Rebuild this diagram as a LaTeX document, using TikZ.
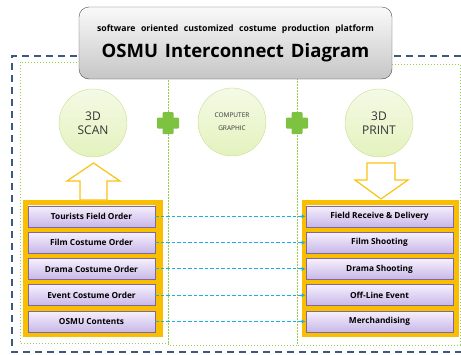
\documentclass[tikz,border=0pt]{standalone}
\usepackage{fontspec}
\setmainfont{Open Sans}
\usepackage{tikz}
\usetikzlibrary{arrows.meta,positioning,shapes,calc}

\definecolor{frameblue}{RGB}{60,90,125}
\definecolor{dotgreen}{RGB}{150,205,80}
\definecolor{plusgreen}{RGB}{125,195,65}
\definecolor{circfill}{RGB}{228,242,190}
\definecolor{circedge}{RGB}{200,222,150}
\definecolor{panelorange}{RGB}{250,190,0}
\definecolor{itemtop}{RGB}{246,240,253}
\definecolor{itembot}{RGB}{200,183,232}
\definecolor{itemedge}{RGB}{125,105,155}
\definecolor{linkcyan}{RGB}{30,175,225}
\definecolor{arrowyellow}{RGB}{250,195,20}

\tikzset{
  titlebox/.style={draw=black!70, rounded corners=10pt, top color=gray!4, bottom color=gray!45, align=center, inner sep=0pt},
  stage/.style={circle, draw=circedge, top color=circfill!40!white, bottom color=circfill, minimum size=68pt, inner sep=0pt, align=center, text=black!80},
  panel/.style={fill=panelorange, inner sep=0pt},
  item/.style={draw=itemedge, line width=0.6pt, top color=itemtop, bottom color=itembot, minimum height=21pt, inner sep=0pt, font=\fontsize{8.3}{10}\selectfont\bfseries},
  link/.style={linkcyan, line width=1pt, dash pattern=on 3.5pt off 2pt, -{Latex[length=4pt,width=4pt]}},
  blockarrow/.style={draw=arrowyellow, fill=white, line width=1.2pt, line join=miter}
}

\begin{document}
\begin{tikzpicture}[x=1pt, y=-1pt]
    \useasboundingbox (0,0) rectangle (461,354);

    % Outer frame
    \draw[frameblue, line width=1.2pt, dash pattern=on 7pt off 5pt] (461,56) -- (12,56) -- (12,352) -- (461,352);

    % Three dotted sections
    \draw[dotgreen, dotted, line width=1pt] (20,62) rectangle (168,343);
    \draw[dotgreen, dotted, line width=1pt] (168,62) rectangle (297,345);
    \draw[dotgreen, dotted, line width=1pt] (297,64) rectangle (460,345);

    % Orange panels
    \node[panel, minimum width=140pt, minimum height=137pt] (lpanel) at (93,268.5) {};
    \node[panel, minimum width=157pt, minimum height=137pt] (rpanel) at (380.5,268.5) {};

    % Orders (left)
    \node[item, minimum width=127pt] (l1) at (91.5,216.3) {Tourists Field Order};
    \node[item, minimum width=127pt] (l2) at (91.5,242.6) {Film Costume Order};
    \node[item, minimum width=127pt] (l3) at (91.5,268.9) {Drama Costume Order};
    \node[item, minimum width=127pt] (l4) at (91.5,295.2) {Event Costume Order};
    \node[item, minimum width=127pt] (l5) at (91.5,321.5) {OSMU Contents};

    % Uses (right)
    \node[item, minimum width=147pt] (r1) at (379.5,216.3) {Field Receive \& Delivery};
    \node[item, minimum width=147pt] (r2) at (379.5,242.6) {Film Shooting};
    \node[item, minimum width=147pt] (r3) at (379.5,268.9) {Drama Shooting};
    \node[item, minimum width=147pt] (r4) at (379.5,295.2) {Off-Line Event};
    \node[item, minimum width=147pt] (r5) at (379.5,321.5) {Merchandising};

    % Links
    \draw[link] (l1.east) -- (r1.west);
    \draw[link] (l2.east) -- (r2.west);
    \draw[link] (l3.east) -- (r3.west);
    \draw[link] (l4.east) -- (r4.west);
    \draw[link] (l5.east) -- (r5.west);

    % Block arrows
    \draw[blockarrow] (93.5,163) -- (120,181) -- (107,181) -- (107,200) -- (80,200) -- (80,181) -- (67,181) -- cycle;
    \draw[blockarrow] (367,163) -- (395,163) -- (395,180) -- (408,180) -- (381,199) -- (355,180) -- (367,180) -- cycle;

    % Stages
    \node[stage, font=\fontsize{12}{14}\selectfont] (scan) at (93,123) {3D\\SCAN};
    \node[stage, font=\fontsize{6.5}{13}\selectfont] (cg) at (232,122) {COMPUTER\\GRAPHIC};
    \node[stage, font=\fontsize{12}{14}\selectfont] (print) at (379,123) {3D\\PRINT};

    % Plus signs
    \fill[plusgreen, rounded corners=1pt] (162.5,112) rectangle (173.5,134);
    \fill[plusgreen, rounded corners=1pt] (157,117.5) rectangle (179,128.5);
    \fill[plusgreen, rounded corners=1pt] (291.5,112) rectangle (302.5,134);
    \fill[plusgreen, rounded corners=1pt] (286,117.5) rectangle (308,128.5);

    % Title
    \node[titlebox, minimum width=313pt, minimum height=72pt] (title) at (235.5,43)
      {{\fontsize{8.7}{10}\selectfont\bfseries\spaceskip=5.5pt software oriented customized costume production platform}\\[9pt]
       {\fontsize{18.5}{20}\selectfont\bfseries\spaceskip=7pt OSMU Interconnect Diagram}};
\end{tikzpicture}
\end{document}
